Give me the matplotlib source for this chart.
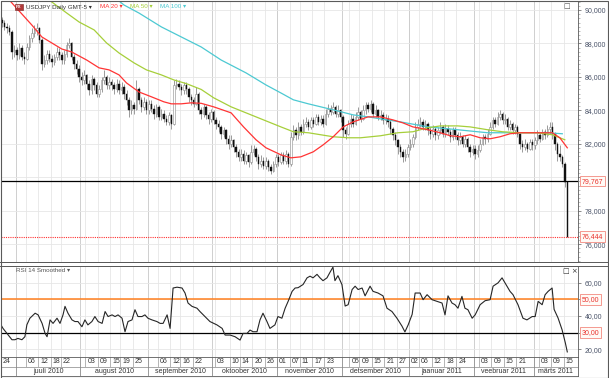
import numpy as np
import pandas as pd
import matplotlib
matplotlib.use("Agg")
import matplotlib.pyplot as plt
from matplotlib.lines import Line2D
from matplotlib.patches import Rectangle
from matplotlib.ticker import MultipleLocator, FuncFormatter

plt.rcParams['font.family'] = ['Liberation Sans', 'DejaVu Sans']
plt.rcParams['font.size'] = 5

# ---- daily USDJPY candles (one per trading day, Sun-Fri) ----
first_open = 89.4
close = [
    89.2, 89.0, 88.9, 88.7, 87.5, 87.6, 87.3, 87.7, 87.2, 87.1,
    87.8, 88.3, 88.6, 88.8, 88.9, 88.2, 86.8, 87.0, 87.4, 87.1,
    86.9, 87.2, 87.5, 87.3, 87.0, 87.4, 87.9, 88.0, 87.2, 86.8,
    86.5, 86.0, 85.8, 86.1, 85.6, 85.2, 85.9, 85.5, 85.0, 85.3,
    85.8, 86.0, 85.5, 85.7, 85.5, 85.3, 85.6, 85.2, 85.4, 85.0,
    84.6, 84.0, 84.3, 84.1, 85.3, 84.6, 84.2, 84.5, 84.0, 84.4,
    84.1, 83.8, 84.2, 83.6, 83.8, 83.5, 83.3, 83.7, 83.2, 85.5,
    85.6, 85.4, 85.2, 85.5, 85.3, 84.8, 84.6, 84.4, 85.0, 84.0,
    83.8, 84.2, 83.7, 83.5, 83.9, 83.4, 83.2, 83.0, 82.6, 82.8,
    82.3, 82.0, 82.2, 81.8, 81.5, 81.2, 81.4, 81.0, 81.3, 80.9,
    81.5, 81.7, 81.2, 80.8, 81.0, 80.7, 81.0, 80.6, 80.4, 80.8,
    81.2, 80.9, 81.3, 81.0, 81.4, 80.8, 82.4, 82.8, 82.5, 83.0,
    82.7, 83.2, 83.3, 83.0, 83.4, 83.2, 83.6, 83.3, 83.5, 83.2,
    83.8, 84.1, 83.9, 84.2, 83.8, 84.0, 83.6, 82.8, 82.6, 83.2,
    83.5, 83.2, 83.6, 83.9, 83.5, 84.0, 84.3, 84.1, 84.4, 83.8,
    84.0, 83.6, 83.7, 83.4, 83.5, 83.3, 82.9, 82.5, 82.2, 81.8,
    81.5, 81.2, 81.4, 81.8, 82.0, 82.4, 83.0, 83.2, 83.3, 83.0,
    83.2, 82.8, 82.6, 82.9, 82.5, 82.8, 83.0, 82.6, 82.9, 82.7,
    82.4, 82.8, 82.5, 82.2, 82.4, 82.0, 82.3, 81.8, 81.5, 81.7,
    81.4, 81.6, 82.0, 82.4, 82.3, 82.6, 83.0, 83.4, 83.2, 83.6,
    83.8, 83.4, 83.5, 83.0, 83.2, 82.8, 83.0, 82.6, 82.0, 81.8,
    82.0, 81.7, 82.1, 81.9, 82.2, 82.5, 82.3, 82.7, 82.5, 82.9,
    83.0, 82.6, 82.0, 81.4, 81.2, 80.8, 79.7, 76.444,
]
high = [
    89.6, 89.4, 89.2, 89.1, 88.8, 87.9, 87.8, 88.0, 87.9, 87.5,
    88.0, 88.5, 88.9, 89.1, 89.2, 89.0, 88.3, 87.3, 87.6, 87.6,
    87.3, 87.4, 87.8, 87.7, 87.5, 87.6, 88.1, 88.3, 88.1, 87.4,
    87.0, 86.7, 86.3, 86.4, 86.2, 85.8, 86.1, 86.0, 85.7, 85.5,
    86.0, 86.4, 86.1, 86.0, 85.9, 85.7, 85.9, 85.8, 85.7, 85.6,
    85.2, 84.8, 84.6, 84.5, 85.8, 85.4, 84.8, 84.8, 84.7, 84.6,
    84.6, 84.3, 84.4, 84.3, 84.1, 84.0, 83.7, 83.9, 83.8, 85.8,
    85.9, 85.8, 85.6, 85.7, 85.7, 85.4, 85.0, 84.8, 85.4, 85.1,
    84.2, 84.4, 84.3, 83.9, 84.1, 84.0, 83.6, 83.4, 83.1, 83.0,
    82.9, 82.5, 82.5, 82.3, 82.0, 81.7, 81.7, 81.6, 81.5, 81.4,
    81.9, 81.9, 81.8, 81.4, 81.3, 81.2, 81.2, 81.1, 80.8, 81.0,
    81.4, 81.4, 81.5, 81.5, 81.6, 81.5, 82.7, 83.1, 83.0, 83.3,
    83.2, 83.5, 83.6, 83.5, 83.6, 83.6, 83.8, 83.8, 83.7, 83.7,
    84.1, 84.4, 84.3, 84.5, 84.3, 84.3, 84.1, 83.7, 83.0, 83.4,
    83.8, 83.7, 83.9, 84.2, 84.0, 84.3, 84.5, 84.5, 84.6, 84.5,
    84.3, 84.1, 84.0, 83.9, 83.8, 83.7, 83.4, 83.0, 82.7, 82.3,
    82.0, 81.7, 81.7, 82.0, 82.3, 82.6, 83.3, 83.5, 83.6, 83.5,
    83.4, 83.3, 83.0, 83.1, 83.0, 83.0, 83.3, 83.1, 83.2, 83.1,
    82.9, 83.0, 83.0, 82.7, 82.7, 82.5, 82.5, 82.4, 82.0, 81.9,
    81.9, 81.9, 82.3, 82.6, 82.6, 82.9, 83.3, 83.6, 83.6, 83.9,
    84.0, 83.9, 83.8, 83.6, 83.4, 83.3, 83.2, 83.1, 82.7, 82.2,
    82.3, 82.1, 82.3, 82.3, 82.4, 82.8, 82.7, 82.9, 82.9, 83.1,
    83.3, 83.3, 82.7, 82.1, 81.9, 81.3, 80.9, 79.8,
]
low = [
    89.0, 88.8, 88.6, 88.5, 87.1, 87.2, 87.0, 87.1, 87.0, 86.8,
    87.0, 87.6, 88.1, 88.4, 88.5, 88.0, 86.4, 86.6, 86.8, 86.9,
    86.6, 86.7, 87.0, 87.0, 86.8, 86.8, 87.2, 87.7, 87.0, 86.5,
    86.2, 85.7, 85.5, 85.6, 85.3, 84.9, 85.0, 85.2, 84.8, 84.8,
    85.1, 85.6, 85.3, 85.3, 85.2, 85.0, 85.1, 85.0, 85.0, 84.7,
    84.3, 83.6, 83.8, 83.8, 84.0, 84.4, 83.9, 84.0, 83.8, 83.8,
    83.9, 83.5, 83.6, 83.4, 83.4, 83.3, 83.1, 83.1, 82.9, 83.1,
    85.3, 85.2, 84.9, 85.0, 85.0, 84.5, 84.3, 84.2, 84.3, 83.8,
    83.5, 83.6, 83.5, 83.2, 83.3, 83.2, 82.9, 82.7, 82.3, 82.4,
    82.0, 81.7, 81.8, 81.5, 81.2, 81.0, 81.0, 80.8, 80.8, 80.6,
    80.8, 81.3, 81.0, 80.5, 80.6, 80.5, 80.5, 80.4, 80.2, 80.3,
    80.6, 80.7, 80.8, 80.8, 80.8, 80.6, 80.7, 82.2, 82.2, 82.3,
    82.5, 82.6, 83.0, 82.8, 82.9, 83.0, 83.1, 83.1, 83.1, 83.0,
    83.1, 83.6, 83.7, 83.8, 83.6, 83.6, 83.3, 82.4, 82.3, 82.5,
    83.0, 83.0, 83.1, 83.4, 83.3, 83.4, 83.8, 83.9, 83.9, 83.6,
    83.6, 83.4, 83.4, 83.2, 83.2, 83.0, 82.6, 82.2, 81.9, 81.4,
    81.2, 80.9, 81.0, 81.2, 81.6, 81.8, 82.3, 82.8, 83.0, 82.8,
    82.8, 82.5, 82.3, 82.4, 82.2, 82.3, 82.6, 82.4, 82.4, 82.5,
    82.1, 82.2, 82.3, 81.9, 82.0, 81.8, 81.8, 81.5, 81.2, 81.3,
    81.1, 81.2, 81.5, 81.9, 82.0, 82.1, 82.5, 82.9, 83.0, 83.1,
    83.4, 83.2, 83.2, 82.8, 82.8, 82.6, 82.6, 82.4, 81.7, 81.5,
    81.6, 81.5, 81.6, 81.6, 81.7, 82.0, 82.1, 82.2, 82.3, 82.4,
    82.6, 82.3, 81.6, 81.0, 81.0, 80.6, 79.4, 76.444,
]

# moving averages, sampled along the curves (bar index, price)
ma20_x = [0, 4, 12, 16, 24, 28, 34, 39, 43, 47, 50, 55, 60, 65, 68, 72, 76, 80, 85, 92,
          97, 102, 106, 112, 116, 120, 125, 129, 133, 137, 141, 147, 152, 157, 161, 165,
          171, 176, 180, 184, 188, 192, 196, 200, 204, 208, 214, 221, 224, 227]
ma20_y = [91.1, 90.42, 89.10, 88.39, 87.67, 87.49, 87.01, 86.54, 86.42, 86.12,
          85.64, 85.10, 84.81, 84.51, 84.39, 84.39, 84.45, 84.42, 84.21, 83.85,
          83.01, 82.24, 81.76, 81.34, 81.16, 81.22, 81.52, 81.94, 82.42, 83.01,
          83.31, 83.61, 83.61, 83.43, 83.25, 83.01, 82.84, 82.66, 82.48, 82.42,
          82.54, 82.36, 82.30, 82.42, 82.60, 82.66, 82.66, 82.66, 82.36, 81.76]
ma50_x = [0, 20, 26, 31, 37, 42, 47, 53, 58, 64, 69, 74, 80, 85, 92, 98, 105, 112, 117,
          123, 128, 133, 139, 144, 152, 159, 165, 171, 176, 183, 188, 195, 201, 208, 215,
          221, 226]
ma50_y = [92.5, 90.48, 89.82, 89.28, 88.81, 88.03, 87.43, 86.84, 86.42, 86.12,
          85.82, 85.60, 85.25, 84.75, 84.21, 83.85, 83.43, 83.01, 82.72, 82.66,
          82.54, 82.42, 82.36, 82.36, 82.48, 82.66, 82.72, 82.96, 83.07, 83.07,
          83.01, 82.84, 82.72, 82.66, 82.66, 82.54, 82.24]
ma100_x = [40, 47, 49, 55, 64, 72, 80, 88, 98, 106, 112, 117, 123, 128, 133, 141, 147,
           152, 160, 171, 179, 187, 195, 203, 211, 219, 225]
ma100_y = [91.0, 90.54, 90.30, 89.82, 88.99, 88.39, 87.79, 87.01, 86.24, 85.52,
           85.04, 84.63, 84.39, 84.21, 84.03, 83.73, 83.61, 83.49, 83.31, 83.01,
           82.90, 82.78, 82.66, 82.66, 82.66, 82.66, 82.60]

# RSI 14 smoothed (bar index, value)
rsi_x = [-0.4, 0.4, 2.0, 4.0, 5.2, 6.4, 8.0, 9.2, 10.0, 11.2, 13.3, 14.5, 16.1, 17.3, 18.1,
         19.3, 20.5, 22.1, 23.3, 24.5, 25.3, 26.5, 28.1, 29.3, 30.5, 32.1, 33.3, 34.5,
         36.1, 37.3, 38.6, 40.2, 41.4, 42.6, 44.2, 45.4, 46.6, 48.2, 49.4, 50.6, 52.2,
         53.4, 54.6, 56.2, 57.4, 58.6, 60.2, 62.2, 63.5, 64.7, 66.3, 67.5, 68.7, 70.3,
         72.3, 73.5, 74.7, 76.3, 78.3, 79.5, 81.5, 83.5, 86.3, 88.4, 89.6, 91.6, 93.6,
         95.6, 96.8, 98.4, 99.6, 100.8, 102.4, 103.6, 104.8, 106.4, 107.6, 109.6, 110.8,
         112.4, 113.7, 114.9, 116.5, 117.7, 118.9,
         120.9, 122.5, 123.7, 124.9, 126.5, 127.7, 128.9, 130.5, 131.7, 132.9, 133.7,
         134.9, 136.5, 137.8, 139.0, 140.6, 141.8, 143.0, 144.6, 145.8, 147.8, 149.0,
         151.0, 153.0, 154.6, 156.6, 158.6, 160.6, 161.8, 163.1, 164.7, 165.9, 167.9,
         169.1, 170.7, 172.7, 174.7, 176.7, 177.9, 179.1, 180.7, 181.9, 183.1, 184.7,
         185.9, 187.1, 188.8, 190.0, 192.0, 194.0, 196.0, 197.2, 199.2, 200.8, 202.0,
         204.0, 205.2, 207.2, 209.2, 210.8, 212.9, 214.1, 215.3, 216.9, 218.1, 219.3,
         220.9, 221.7, 223.3, 224.9, 226.2, 227.0]
rsi_y = [34.7, 32.6, 29.6, 25.8, 25.8, 26.6, 25.8, 27.6, 34.8, 38.7, 41.7, 40.7, 35.6, 29.6,
         27.6, 37.7, 35.6, 38.7, 35.6, 40.7, 45.8, 41.7, 37.7, 36.7, 36.7, 33.6, 37.7,
         34.7, 36.7, 39.7, 36.7, 35.6, 42.7, 39.7, 40.7, 39.7, 40.7, 38.7, 30.6, 36.7,
         37.7, 43.8, 39.7, 39.7, 40.7, 38.7, 37.7, 36.7, 35.6, 35.6, 40.7, 32.6, 56.8,
         57.3, 56.8, 53.8, 47.8, 45.8, 44.7, 42.7, 39.7, 36.7, 34.7, 32.6, 28.6, 28.6,
         27.6, 25.6, 29.6, 29.6, 31.6, 30.6, 30.6, 37.7, 41.7, 36.7, 32.6, 34.7, 39.7,
         38.7, 44.7, 48.8, 54.8, 56.8, 57.0,
         58.9, 62.9, 63.9, 62.9, 65.0, 62.9, 61.2, 62.9, 66.2, 69.3, 61.2, 64.2, 58.9,
         46.0, 46.8, 55.9, 57.9, 55.9, 56.8, 52.1, 57.9, 54.8, 53.8, 52.1, 44.7, 42.7,
         38.7, 34.0, 30.5, 34.7, 41.0, 53.8, 53.8, 49.8, 52.8, 49.8, 48.8, 47.8, 40.7,
         52.1, 47.8, 46.8, 44.7, 51.8, 44.7, 43.8, 38.7, 40.7, 46.8, 49.2, 49.8, 57.9,
         59.9, 62.9, 59.9, 54.8, 52.8, 46.8, 38.7, 37.7, 39.7, 39.7, 48.8, 46.8, 52.8,
         54.8, 56.8, 44.0, 38.8, 31.8, 24.0, 18.5]

day_ticks = ["2010-06-24", "2010-07-06", "2010-07-12", "2010-07-18", "2010-07-22",
             "2010-08-03", "2010-08-09", "2010-08-15", "2010-08-19", "2010-08-25",
             "2010-09-06", "2010-09-12", "2010-09-16", "2010-09-22",
             "2010-10-03", "2010-10-10", "2010-10-14", "2010-10-20", "2010-10-26",
             "2010-11-01", "2010-11-07", "2010-11-11", "2010-11-17", "2010-11-23",
             "2010-12-05", "2010-12-09", "2010-12-15", "2010-12-21", "2010-12-27",
             "2011-01-02", "2011-01-06", "2011-01-12", "2011-01-18", "2011-01-24",
             "2011-02-03", "2011-02-09", "2011-02-15", "2011-02-21",
             "2011-03-03", "2011-03-09", "2011-03-15"]
month_starts = ["2010-07-01", "2010-08-01", "2010-09-01", "2010-10-01", "2010-11-01",
                "2010-12-01", "2011-01-02", "2011-02-01", "2011-03-01"]
month_names = ["juuli 2010", "august 2010", "september 2010", "oktoober 2010",
               "november 2010", "detsember 2010", "jaanuar 2011", "veebruar 2011",
               "märts 2011"]

last_open = 79.767
last_price = 76.444
rsi_levels = [50, 30]

# ---- layout ----
n = len(close)
x = np.arange(n)
c = np.array(close)
o = np.array([first_open] + close[:-1])
h = np.array(high)
l = np.array(low)

days = pd.date_range("2010-06-24", "2011-03-16")
days = days[days.dayofweek != 5][:n]
tick_idx = [days.searchsorted(pd.Timestamp(d)) for d in day_ticks]
month_idx = [days.searchsorted(pd.Timestamp(d)) for d in month_starts]

W, H = 609, 378
fig = plt.figure(figsize=(W / 100, H / 100), dpi=100)
fig.patch.set_facecolor('white')


def box(left, top, right, bottom):
    return [left / W, 1 - bottom / H, (right - left) / W, (bottom - top) / H]


ax = fig.add_axes(box(1, 1, 578, 262))
ax_r = fig.add_axes(box(1, 266, 578, 357))
ax_d = fig.add_axes(box(1, 357, 578, 376))
XMIN, XMAX = -0.4, 231.3

frame_col = '#5a5a5a'
label_col = '#4a5368'
grid_col = '#e6e6e6'
month_col = '#c8c8c8'

for a in (ax, ax_r, ax_d):
    a.set_xlim(XMIN, XMAX)
    for s in a.spines.values():
        s.set_color(frame_col)
        s.set_linewidth(0.6)
    a.tick_params(axis='x', bottom=False, labelbottom=False)

for a in (ax, ax_r):
    for i in tick_idx:
        a.axvline(i - 0.5, color=grid_col, lw=0.6, zorder=0)
    for i in month_idx:
        a.axvline(i - 0.5, color=month_col, lw=0.6, zorder=0)
    a.grid(axis='y', color=grid_col, lw=0.6, zorder=0)
    a.set_axisbelow(True)
    a.yaxis.tick_right()
    a.tick_params(axis='y', which='major', direction='out', length=2, width=0.5,
                  color=frame_col, labelsize=5, labelcolor=label_col, pad=3)
    a.tick_params(axis='y', which='minor', direction='out', length=1.2, width=0.4,
                  color='#888888')


def price_fmt(v, p):
    # the 80 label sits under the current-open box
    if abs(v - 80) < 1e-6:
        return ""
    return f"{v:.3f}".replace('.', ',')


def rsi_fmt(v, p):
    # 50 and 30 are shown in the level boxes instead
    if any(abs(v - lv) < 1e-6 for lv in rsi_levels):
        return ""
    return f"{v:.2f}".replace('.', ',')


# price panel
ax.set_ylim(74.93, 90.54)
ax.set_yticks(np.arange(76, 91, 2))
ax.yaxis.set_minor_locator(MultipleLocator(0.25))
ax.yaxis.set_major_formatter(FuncFormatter(price_fmt))

up = c >= o
bottoms = np.minimum(o, c)
heights = np.maximum(np.abs(c - o), 0.04)
ax.vlines(x, l, h, color='#8a8a8a', lw=0.6, zorder=2)
ax.bar(x[up], heights[up], bottom=bottoms[up], width=0.6, color='white',
       edgecolor='#8a8a8a', lw=0.4, zorder=3)
ax.bar(x[~up], heights[~up], bottom=bottoms[~up], width=0.6, color='#111111',
       edgecolor='#111111', lw=0.3, zorder=3)

ax.plot(ma100_x, ma100_y, color='#4cc9d2', lw=0.9, zorder=4)
ax.plot(ma50_x, ma50_y, color='#a6cf3a', lw=0.9, zorder=4)
ax.plot(ma20_x, ma20_y, color='#ff3434', lw=0.9, zorder=5)

ax.axhline(last_open, color='black', lw=0.9, zorder=6)
ax.axhline(last_price, color='#ff3030', lw=0.8, ls=(0, (1, 1)), zorder=6)

for val in (last_open, last_price):
    ax.annotate(f"{val:.3f}".replace('.', ','), xy=(1.0, val),
                xycoords=('axes fraction', 'data'), xytext=(2.5, 0),
                textcoords='offset points', ha='left', va='center', fontsize=5,
                color='#e8322c', annotation_clip=False, zorder=10,
                bbox=dict(boxstyle='square,pad=0.25', fc='#fffaf6', ec='#f28a80', lw=0.6))

# RSI panel
ax_r.set_ylim(15.45, 70)
ax_r.set_yticks([20, 30, 40, 50, 60])
ax_r.yaxis.set_major_formatter(FuncFormatter(rsi_fmt))
ax_r.axhline(rsi_levels[0], color='#ff7f1e', lw=1.1, zorder=2)
ax_r.axhline(rsi_levels[1], color='black', lw=0.9, zorder=2)
ax_r.plot(rsi_x, rsi_y, color='#262626', lw=0.8, zorder=3)
for val in rsi_levels:
    ax_r.annotate(f"{val:.2f}".replace('.', ','), xy=(1.0, val),
                  xycoords=('axes fraction', 'data'), xytext=(2.5, 0),
                  textcoords='offset points', ha='left', va='center', fontsize=5,
                  color='#e8322c', annotation_clip=False, zorder=10,
                  bbox=dict(boxstyle='square,pad=0.25', fc='#fffaf6', ec='#f28a80', lw=0.6))

# date rows
ax_d.set_ylim(0, 2)
ax_d.set_yticks([])
ax_d.hlines(1, XMIN, XMAX, color='#9a9a9a', lw=0.6)
for i in tick_idx:
    ax_d.vlines(i - 0.5, 1, 2, color='#a8a8a8', lw=0.6)
    ax_d.text(i + 0.3, 1.48, days[i].strftime('%d'), ha='left', va='center',
              fontsize=5, color='#333333')
bounds = month_idx + [XMAX + 0.5]
for k, name in enumerate(month_names):
    ax_d.vlines(bounds[k] - 0.5, 0, 2, color='#8a8a8a', lw=0.6)
    ax_d.text((bounds[k] + bounds[k + 1]) / 2 - 0.5, 0.45, name, ha='center',
              va='center', fontsize=5, color='#333333')

# legend / headers
fig.text(16 / W, 1 - 7 / H, "FX", fontsize=3.2, color='white', weight='bold',
         va='center', ha='left',
         bbox=dict(boxstyle='square,pad=0.25', fc='#b23a3a', ec='#7a2020', lw=0.4))
fig.text(26 / W, 1 - 7 / H, "USDJPY Daily GMT-5 ▾", fontsize=4.5, color='#333333', va='center')
fig.text(100 / W, 1 - 7 / H, "MA 20 ▾", fontsize=4.5, color='#ff3434', va='center')
fig.text(130 / W, 1 - 7 / H, "MA 50 ▾", fontsize=4.5, color='#a6cf3a', va='center')
fig.text(160 / W, 1 - 7 / H, "MA 100 ▾", fontsize=4.5, color='#4cc9d2', va='center')
fig.text(16 / W, 1 - 271 / H, "RSI 14 Smoothed ▾", fontsize=4.5, color='#555555', va='center')
fig.text(563 / W, 1 - 6 / H, "□", fontsize=5, color='#555555', va='center',
         family=['DejaVu Sans'])
fig.text(563 / W, 1 - 271 / H, "□ ×", fontsize=5, color='#333333', va='center',
         family=['DejaVu Sans'])

# panel separators and outer frame
for yy in (262, 266):
    fig.add_artist(Line2D([0, 1], [1 - yy / H] * 2, transform=fig.transFigure,
                          color=frame_col, lw=0.7))
fig.add_artist(Rectangle((0.5 / W, 0.5 / H), 1 - 1.5 / W, 1 - 1.5 / H,
                         transform=fig.transFigure, fill=False, ec=frame_col, lw=0.8))

fig.savefig('out.png', dpi=100)
